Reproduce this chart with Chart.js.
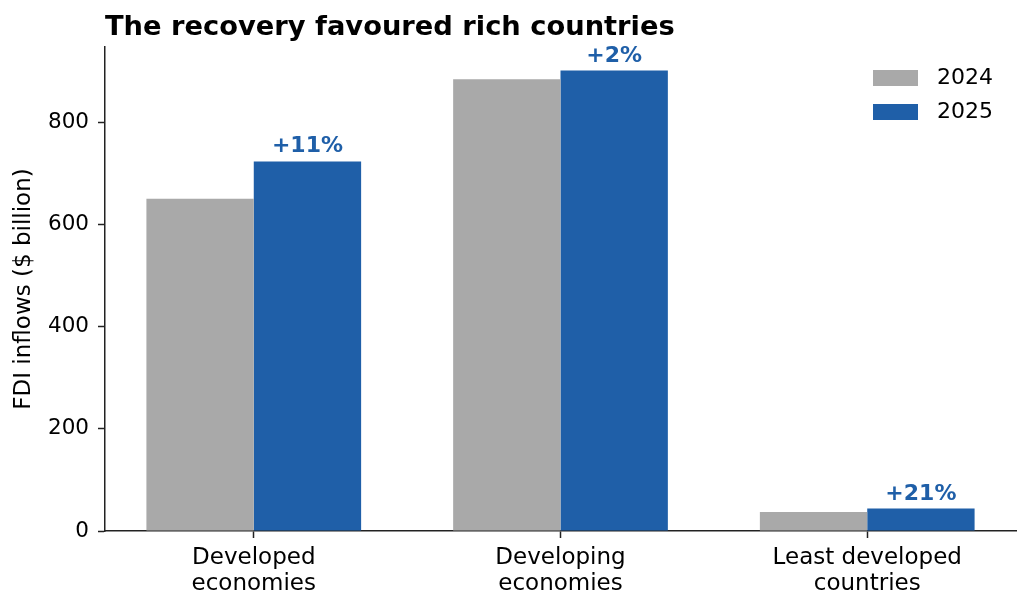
<!DOCTYPE html>
<html>
<head>
<meta charset="utf-8">
<script src="https://cdn.jsdelivr.net/npm/chart.js@4"></script>
<style>
  html, body { margin: 0; padding: 0; background: #fff; }
  #wrap { width: 1030px; height: 610px; }
</style>
</head>
<body>
<div id="wrap"><canvas id="canvas" width="1030" height="610"></canvas></div>
<script>
const categories = [["Developed", "economies"], ["Developing", "economies"], ["Least developed", "countries"]];
const years = ["2024", "2025"];
const fdi2024 = [650, 884, 37];
const fdi2025 = [723, 901, 44];
const changeLabels = ["+11%", "+2%", "+21%"];
const yTicks = [0, 200, 400, 600, 800];

const GREY = "#a9a9a9";
const BLUE = "#1f5fa8";
const FONT = "'DejaVu Sans', sans-serif";

// title, bar labels and legend drawn by hand
const extras = {
    id: 'extras',
    afterDraw(chart) {
        let ctx = chart.ctx;
        let area = chart.chartArea;
        ctx.save();

        ctx.fillStyle = "#000";
        ctx.font = "bold 27.3px " + FONT;
        ctx.textAlign = "left";
        ctx.textBaseline = "alphabetic";
        ctx.fillText("The recovery favoured rich countries", area.left, 35);

        ctx.fillStyle = BLUE;
        ctx.font = "bold 22px " + FONT;
        ctx.textAlign = "center";
        chart.getDatasetMeta(1).data.forEach((bar, i) => {
            ctx.fillText(changeLabels[i], bar.x, bar.y - 9);
        });

        let colors = [GREY, BLUE];
        ctx.font = "22px " + FONT;
        ctx.textAlign = "left";
        ctx.textBaseline = "middle";
        for (let i = 0; i < years.length; i++) {
            let y = 70 + i * 34;
            ctx.fillStyle = colors[i];
            ctx.fillRect(873, y, 45, 16);
            ctx.fillStyle = "#000";
            ctx.fillText(years[i], 937, y + 8);
        }
        ctx.restore();
    }
};

let ctx = document.getElementById('canvas').getContext("2d");
let chart = new Chart(ctx, {
    type: 'bar',
    data: {
        datasets: [{
            label: years[0],
            data: fdi2024.map((v, i) => ({x: i, y: v})),
            backgroundColor: GREY,
            borderWidth: 0
        }, {
            label: years[1],
            data: fdi2025.map((v, i) => ({x: i, y: v})),
            backgroundColor: BLUE,
            borderWidth: 0
        }]
    },
    options: {
        responsive: false,
        animation: false,
        categoryPercentage: 0.7,
        barPercentage: 1.0,
        layout: { padding: { top: 47, right: 14, left: 0, bottom: 0 } },
        plugins: {
            legend: { display: false },
            title: { display: false },
            tooltip: { enabled: false }
        },
        scales: {
            x: {
                type: 'linear',
                min: -0.485,
                max: 2.485,
                offset: false,
                afterBuildTicks(scale) {
                    scale.ticks = categories.map((c, i) => ({value: i}));
                },
                afterFit(scale) { scale.height = 79; },
                grid: {
                    offset: false,
                    drawOnChartArea: false,
                    drawTicks: true,
                    tickLength: 7,
                    tickWidth: 1.5,
                    tickColor: "#222"
                },
                border: { display: true, color: "#222", width: 1.5 },
                ticks: {
                    color: "#000",
                    font: { family: FONT, size: 23, lineHeight: 1.13 },
                    padding: 7,
                    maxRotation: 0,
                    autoSkip: false,
                    callback: (v) => categories[v]
                }
            },
            y: {
                min: 0,
                max: 947,
                afterBuildTicks(scale) {
                    scale.ticks = yTicks.map(v => ({value: v}));
                },
                afterFit(scale) { scale.width = 105; },
                grid: {
                    drawOnChartArea: false,
                    drawTicks: true,
                    tickLength: 7,
                    tickWidth: 1.5,
                    tickColor: "#222"
                },
                border: { display: true, color: "#222", width: 1.5 },
                ticks: {
                    color: "#000",
                    font: { family: FONT, size: 21.5 },
                    padding: 9
                },
                title: {
                    display: true,
                    text: "FDI inflows ($ billion)",
                    color: "#000",
                    font: { family: FONT, size: 23 },
                    padding: { top: 10, bottom: 0 }
                }
            }
        }
    },
    plugins: [extras]
});
</script>
</body>
</html>
